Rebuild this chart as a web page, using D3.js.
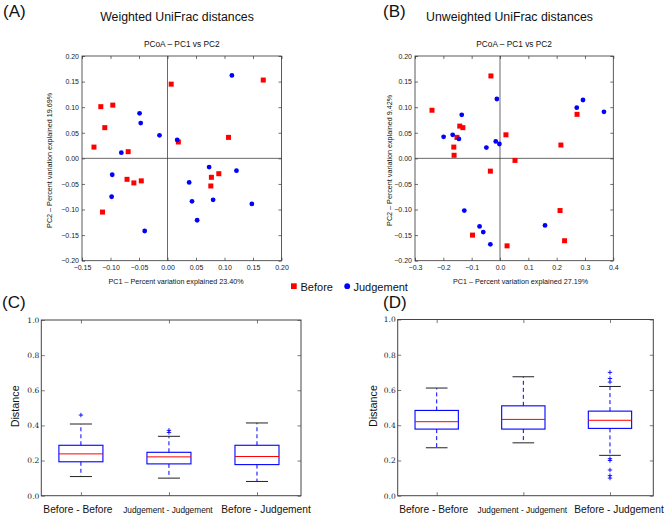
<!DOCTYPE html>
<html><head>
<meta charset="utf-8">
<title>UniFrac PCoA and distance boxplots</title>
<script src="https://d3js.org/d3.v7.min.js"></script>
<style>
  body { margin: 0; background: #fff; }
  svg text { font-family: "Liberation Sans", Arial, Helvetica, sans-serif; fill: #111; }
</style>
</head>
<body>
<div id="container"></div>
<script>
// ---- values ----
// PCoA coordinates [PC1, PC2]
const weightedBefore = [
  [0.0065, 0.145], [0.168, 0.153], [-0.117, 0.101], [-0.096, 0.104],
  [-0.110, 0.060], [0.107, 0.041], [-0.129, 0.022], [0.019, 0.032],
  [-0.069, 0.013], [-0.071, -0.041], [-0.059, -0.048], [-0.046, -0.044],
  [-0.114, -0.105], [0.077, -0.037], [0.090, -0.030], [0.076, -0.054]
];
const weightedJudgement = [
  [0.113, 0.162], [-0.049, 0.088], [-0.047, 0.069], [-0.014, 0.045],
  [0.017, 0.036], [-0.081, 0.011], [-0.097, -0.032], [-0.098, -0.075],
  [-0.040, -0.142], [0.073, -0.017], [0.038, -0.047], [0.043, -0.084],
  [0.080, -0.081], [0.052, -0.121], [0.121, -0.024], [0.148, -0.089]
];
const unweightedBefore = [
  [-0.032, 0.161], [-0.240, 0.094], [-0.142, 0.063], [-0.131, 0.060],
  [-0.152, 0.041], [0.021, 0.046], [0.272, 0.086], [-0.163, 0.022],
  [0.215, 0.026], [-0.162, 0.006], [0.053, -0.004], [-0.034, -0.025],
  [0.212, -0.102], [0.228, -0.161], [-0.097, -0.150], [0.025, -0.171]
];
const unweightedJudgement = [
  [-0.011, 0.116], [-0.135, 0.085], [-0.199, 0.042], [-0.167, 0.046],
  [-0.145, 0.038], [-0.048, 0.021], [-0.015, 0.033], [-0.002, 0.028],
  [0.271, 0.099], [0.293, 0.114], [0.367, 0.091], [-0.126, -0.102],
  [-0.072, -0.133], [-0.059, -0.144], [-0.034, -0.168], [0.159, -0.131]
];

// boxplot categories and stats [lower whisker, Q1, median, Q3, upper whisker]
const categories = ["Before - Before", "Judgement - Judgement", "Before - Judgement"];
const weightedStats = [
  [0.109, 0.193, 0.238, 0.287, 0.408],
  [0.100, 0.181, 0.221, 0.247, 0.338],
  [0.081, 0.177, 0.223, 0.287, 0.414]
];
const weightedOutliers = [[0.459], [0.372, 0.360], []];
const unweightedStats = [
  [0.272, 0.378, 0.420, 0.484, 0.611],
  [0.300, 0.378, 0.433, 0.510, 0.675],
  [0.229, 0.382, 0.428, 0.480, 0.620]
];
const unweightedOutliers = [[], [], [0.700, 0.665, 0.645, 0.210, 0.200, 0.146, 0.114, 0.100]];

// tick values
const pcYTicks = d3.range(-4, 5).map(i => i * 0.05);
const weightedXTicks = d3.range(-3, 5).map(i => i * 0.05);
const unweightedXTicks = d3.range(-3, 5).map(i => i * 0.1);
const distTicks = d3.range(0, 6).map(i => i * 0.2);

const RED = "#ff0000", BLUE = "#0000ff";
const minus = s => s.replace("-", "\u2212");

const svg = d3.select("#container").append("svg")
  .attr("width", 667).attr("height", 518);

// ---------- scatter panels ----------
function drawScatter(f, xDomain, xTicks, xFmt, before, judgement, xLabel, yLabel) {
  const g = svg.append("g");
  const x = d3.scaleLinear().domain(xDomain).range([f.x0, f.x1]);
  const y = d3.scaleLinear().domain([-0.2, 0.2]).range([f.y1, f.y0]);

  // inward ticks on all four sides
  const tick = 3;
  g.append("g").attr("transform", `translate(0,${f.y1})`)
    .call(d3.axisBottom(x).tickValues(xTicks).tickSize(-tick).tickSizeOuter(0).tickPadding(4)
      .tickFormat(d => minus(d3.format(xFmt)(d))));
  g.append("g").attr("transform", `translate(0,${f.y0})`)
    .call(d3.axisTop(x).tickValues(xTicks).tickSize(-tick).tickSizeOuter(0).tickFormat(""));
  g.append("g").attr("transform", `translate(${f.x0},0)`)
    .call(d3.axisLeft(y).tickValues(pcYTicks).tickSize(-tick).tickSizeOuter(0).tickPadding(3)
      .tickFormat(d => minus(d3.format(".2f")(d))));
  g.append("g").attr("transform", `translate(${f.x1},0)`)
    .call(d3.axisRight(y).tickValues(pcYTicks).tickSize(-tick).tickSizeOuter(0).tickFormat(""));
  g.selectAll(".domain").remove();
  g.selectAll(".tick line").attr("stroke", "#333").attr("stroke-width", 0.7);
  g.selectAll(".tick text").style("font-size", "7px")
    .style("font-family", "'Liberation Sans', Arial, sans-serif").style("fill", "#222");

  // zero lines
  g.append("line").attr("x1", x(0)).attr("x2", x(0)).attr("y1", f.y0).attr("y2", f.y1)
    .attr("stroke", "#444").attr("stroke-width", 0.8);
  g.append("line").attr("x1", f.x0).attr("x2", f.x1).attr("y1", y(0)).attr("y2", y(0))
    .attr("stroke", "#444").attr("stroke-width", 0.8);

  g.append("rect").attr("x", f.x0).attr("y", f.y0)
    .attr("width", f.x1 - f.x0).attr("height", f.y1 - f.y0)
    .attr("fill", "none").attr("stroke", "#333").attr("stroke-width", 0.8);

  // points
  const s = 5;
  g.selectAll("rect.before").data(before).join("rect").attr("class", "before")
    .attr("x", d => x(d[0]) - s / 2).attr("y", d => y(d[1]) - s / 2)
    .attr("width", s).attr("height", s).attr("fill", RED);
  g.selectAll("circle.judgement").data(judgement).join("circle").attr("class", "judgement")
    .attr("cx", d => x(d[0])).attr("cy", d => y(d[1])).attr("r", 2.4).attr("fill", BLUE);

  const cx = (f.x0 + f.x1) / 2;
  g.append("text").attr("x", cx).attr("y", 46.5).attr("text-anchor", "middle")
    .attr("font-size", 8.3).text("PCoA \u2013 PC1 vs PC2");
  g.append("text").attr("x", f.xLabelX).attr("y", 283.5).attr("text-anchor", "middle")
    .attr("font-size", 7.2).text(xLabel);
  g.append("text").attr("transform", `translate(${f.yLabelX},${(f.y0 + f.y1) / 2 + 2}) rotate(-90)`)
    .attr("text-anchor", "middle").attr("font-size", 7.2).text(yLabel);
}

drawScatter({ x0: 82, x1: 281.5, y0: 56, y1: 260.7, xLabelX: 176, yLabelX: 51.5 },
  [-0.15, 0.20], weightedXTicks, ".2f", weightedBefore, weightedJudgement,
  "PC1 \u2013 Percent variation explained 23.40%", "PC2 \u2013 Percent variation explained 19.69%");
drawScatter({ x0: 415, x1: 613.3, y0: 56, y1: 260.7, xLabelX: 520.5, yLabelX: 391.5 },
  [-0.3, 0.4], unweightedXTicks, ".1f", unweightedBefore, unweightedJudgement,
  "PC1 \u2013 Percent variation explained 27.19%", "PC2 \u2013 Percent variation explained 9.42%");

// panel titles and tags
svg.append("text").attr("x", 3).attr("y", 17).attr("font-size", 17).text("(A)");
svg.append("text").attr("x", 383).attr("y", 17).attr("font-size", 17).text("(B)");
svg.append("text").attr("x", 177).attr("y", 20.5).attr("text-anchor", "middle")
  .attr("font-size", 12.3).text("Weighted UniFrac distances");
svg.append("text").attr("x", 509.5).attr("y", 20.5).attr("text-anchor", "middle")
  .attr("font-size", 12.3).text("Unweighted UniFrac distances");
svg.append("text").attr("x", 2).attr("y", 308).attr("font-size", 17).text("(C)");
svg.append("text").attr("x", 383).attr("y", 308).attr("font-size", 17).text("(D)");

// legend
const legend = svg.append("g");
legend.append("rect").attr("x", 291).attr("y", 283.3).attr("width", 5.7).attr("height", 5.7).attr("fill", RED);
legend.append("text").attr("x", 300.5).attr("y", 291).attr("font-size", 11).text("Before");
legend.append("circle").attr("cx", 347.2).attr("cy", 286.2).attr("r", 2.9).attr("fill", BLUE);
legend.append("text").attr("x", 353.5).attr("y", 291).attr("font-size", 11).text("Judgement");

// ---------- box plot panels ----------
function drawBoxes(f, stats, outliers, yLabelX) {
  const g = svg.append("g");
  const x = d3.scaleLinear().domain([0.55, 3.5]).range([f.x0, f.x1]);
  const y = d3.scaleLinear().domain([0, 1]).range([f.y1, f.y0]);
  const pos = [1, 2, 3];
  const tick = 3.5;

  const ax = g.append("g");
  ax.append("g").attr("transform", `translate(${f.x0},0)`)
    .call(d3.axisLeft(y).tickValues(distTicks).tickSize(-tick).tickSizeOuter(0).tickPadding(2)
      .tickFormat(d3.format(".1f")));
  ax.append("g").attr("transform", `translate(${f.x1},0)`)
    .call(d3.axisRight(y).tickValues(distTicks).tickSize(-tick).tickSizeOuter(0).tickFormat(""));
  ax.append("g").attr("transform", `translate(0,${f.y0})`)
    .call(d3.axisTop(x).tickValues(pos).tickSize(-tick).tickSizeOuter(0).tickFormat(""));
  ax.append("g").attr("transform", `translate(0,${f.y1})`)
    .call(d3.axisBottom(x).tickValues(pos).tickSize(-tick).tickSizeOuter(0).tickFormat(""));
  ax.selectAll(".domain").remove();
  ax.selectAll(".tick line").attr("stroke", "#444").attr("stroke-width", 0.7);
  ax.selectAll(".tick text").style("font-size", "7.5px")
    .style("font-family", "'DejaVu Serif', serif").style("fill", "#222");

  g.append("rect").attr("x", f.x0).attr("y", f.y0)
    .attr("width", f.x1 - f.x0).attr("height", f.y1 - f.y0)
    .attr("fill", "none").attr("stroke", "#444").attr("stroke-width", 1);

  const hw = 0.25, cw = 0.125;
  const box = g.selectAll("g.box").data(stats).join("g").attr("class", "box");
  // whiskers
  box.append("line").attr("x1", (d, i) => x(pos[i])).attr("x2", (d, i) => x(pos[i]))
    .attr("y1", d => y(d[3])).attr("y2", d => y(d[4]))
    .attr("stroke", BLUE).attr("stroke-dasharray", "4,3");
  box.append("line").attr("x1", (d, i) => x(pos[i])).attr("x2", (d, i) => x(pos[i]))
    .attr("y1", d => y(d[1])).attr("y2", d => y(d[0]))
    .attr("stroke", BLUE).attr("stroke-dasharray", "4,3");
  // caps
  [0, 4].forEach(k => {
    box.append("line").attr("x1", (d, i) => x(pos[i] - cw)).attr("x2", (d, i) => x(pos[i] + cw))
      .attr("y1", d => y(d[k])).attr("y2", d => y(d[k]))
      .attr("stroke", "#222").attr("stroke-width", 1);
  });
  box.append("rect").attr("x", (d, i) => x(pos[i] - hw)).attr("width", (d, i) => x(pos[i] + hw) - x(pos[i] - hw))
    .attr("y", d => y(d[3])).attr("height", d => y(d[1]) - y(d[3]))
    .attr("fill", "none").attr("stroke", BLUE).attr("stroke-width", 1.1);
  box.append("line").attr("x1", (d, i) => x(pos[i] - hw)).attr("x2", (d, i) => x(pos[i] + hw))
    .attr("y1", d => y(d[2])).attr("y2", d => y(d[2]))
    .attr("stroke", RED).attr("stroke-width", 1);

  // fliers
  const fl = outliers.flatMap((arr, i) => arr.map(v => [pos[i], v]));
  g.selectAll("path.flier").data(fl).join("path").attr("class", "flier")
    .attr("d", d => { const px = x(d[0]), py = y(d[1]);
      return `M${px - 2.2},${py}H${px + 2.2}M${px},${py - 2.2}V${py + 2.2}`; })
    .attr("stroke", BLUE).attr("stroke-width", 0.9);

  // category labels (placed under each box, as in the figure)
  const shift = [-3, -1, 9];
  const size = [10.2, 8.3, 10.2];
  g.selectAll("text.cat").data(categories).join("text").attr("class", "cat")
    .attr("x", (d, i) => x(pos[i]) + shift[i]).attr("y", 513)
    .attr("text-anchor", "middle").attr("font-size", (d, i) => size[i]).text(d => d);

  g.append("text").attr("transform", `translate(${yLabelX},${(f.y0 + f.y1) / 2 - 1.5}) rotate(-90)`)
    .attr("text-anchor", "middle").attr("font-size", 10.8).text("Distance");
}

drawBoxes({ x0: 41.3, x1: 301, y0: 320, y1: 495.7 }, weightedStats, weightedOutliers, 18.5);
drawBoxes({ x0: 397.7, x1: 653.3, y0: 319.5, y1: 495.7 }, unweightedStats, unweightedOutliers, 376.8);
</script>
</body>
</html>
